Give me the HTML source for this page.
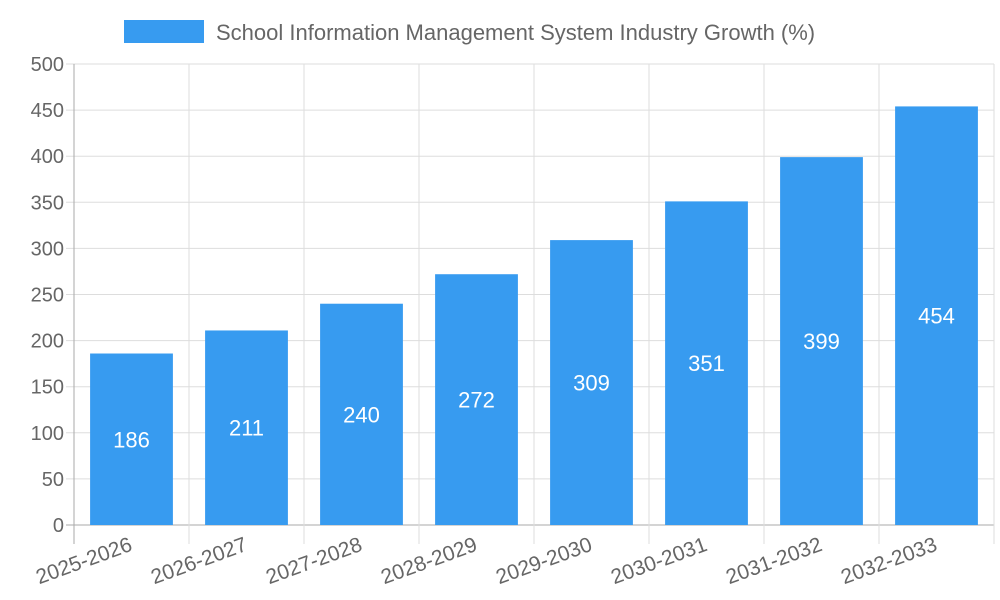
<!DOCTYPE html>
<html><head><meta charset="utf-8"><style>
body{margin:0;background:#fff;}
svg{display:block;font-family:"Liberation Sans",sans-serif;}
</style></head><body>
<svg id="chart" width="1000" height="600">
<g id="legend">
<rect x="124" y="20" width="80" height="23" fill="#379bf0"/>
<text x="216" y="40" font-size="22" fill="#666">School Information Management System Industry Growth (%)</text>
</g>
<g id="grid"></g><g id="bars"></g><g id="axes"></g>
</svg>
<script>
const categories=["2025-2026","2026-2027","2027-2028","2028-2029","2029-2030","2030-2031","2031-2032","2032-2033"];
const values=[186,211,240,272,309,351,399,454];
const yTicks=[0,50,100,150,200,250,300,350,400,450,500];
const X0=74,X1=994,Y0=525,Y1=64,YMAX=500;
const NS="http://www.w3.org/2000/svg";
const bw=(X1-X0)/categories.length;
function y(v){return Y0-(v/YMAX)*(Y0-Y1);}
function xc(i){return X0+bw*(i+0.5);}
function mk(t,a,p){const e=document.createElementNS(NS,t);for(const k in a)e.setAttribute(k,a[k]);p.appendChild(e);return e;}
const grid=document.getElementById('grid'),bars=document.getElementById('bars'),axes=document.getElementById('axes');
yTicks.forEach(t=>{
 const l=mk('line',{x1:X0-8,x2:X1,y1:y(t),y2:y(t),stroke:t===0?'#aaa':'#ddd','stroke-width':1},grid);
 
 
 const tx=mk('text',{x:X0-10,y:y(t)+7,'text-anchor':'end','font-size':20,fill:'#666'},axes);
 tx.textContent=t;
 
 
});
for(let i=0;i<=categories.length;i++){
 const x=X0+bw*i;
 const l=mk('line',{x1:x,x2:x,y1:Y1,y2:Y0+19,stroke:i===0?'#aaa':'#ddd','stroke-width':1},grid);
 
 
}
categories.forEach((c,i)=>{
 const w=bw*0.72,v=values[i];
 const r=mk('rect',{x:xc(i)-w/2,y:y(v),width:w,height:Y0-y(v),fill:'#379bf0'},bars);
 
 
 const vt=mk('text',{x:xc(i),y:(y(v)+Y0)/2+8,'text-anchor':'middle','font-size':22,fill:'#fff'},bars);
 vt.textContent=v;
 
 
 const lt=mk('text',{x:xc(i)+2,y:550,'text-anchor':'end','font-size':21,fill:'#666',transform:'rotate(-20 '+(xc(i)+2)+' 550)'},axes);
 lt.textContent=c;
 
 
});
</script>
</body></html>
